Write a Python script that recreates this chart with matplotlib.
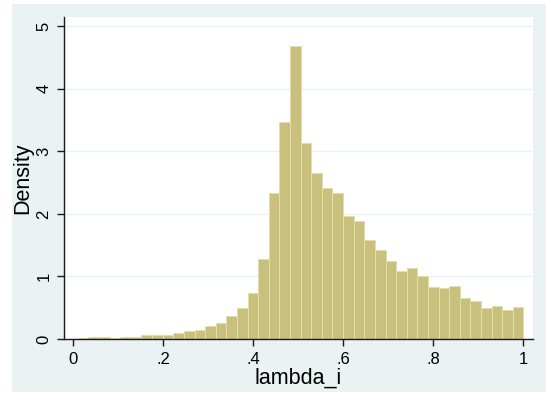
import numpy as np
import matplotlib.pyplot as plt
from matplotlib.patches import Rectangle

plt.rcParams["font.family"] = ["Liberation Sans", "DejaVu Sans"]

# histogram of lambda_i: 42 equal-width bins from the sample minimum to 1
lo = 0.0096
hi = 1.0
density = [0.016, 0.027, 0.027, 0.020, 0.037, 0.030, 0.070, 0.060, 0.065, 0.10,
           0.12, 0.14, 0.21, 0.26, 0.37, 0.49, 0.74, 1.28, 2.33, 3.47,
           4.68, 3.14, 2.66, 2.41, 2.34, 1.96, 1.88, 1.59, 1.43, 1.24,
           1.09, 1.13, 1.01, 0.83, 0.82, 0.84, 0.66, 0.60, 0.49, 0.52,
           0.46, 0.51]
xticks = [0, 0.2, 0.4, 0.6, 0.8, 1.0]
xticklabels = ["0", ".2", ".4", ".6", ".8", "1"]
yticks = [0, 1, 2, 3, 4, 5]

edges = np.linspace(lo, hi, len(density) + 1)
width = edges[1] - edges[0]

fig = plt.figure(figsize=(5.46, 3.97), dpi=100)
fig.patch.set_facecolor("white")
# graph region background
fig.add_artist(Rectangle((12 / 546, 1 - 392 / 397), 1 - 12 / 546, 388 / 397,
                         transform=fig.transFigure, facecolor="#eaf2f3",
                         edgecolor="none", zorder=-10))

ax = fig.add_axes([64 / 546, 1 - 339 / 397, (532.7 - 64) / 546, (339 - 17) / 397])
ax.set_facecolor("white")

ax.bar(edges[:-1], density, width=width, align="edge",
       color="#c9c07e", edgecolor="#e4dea9", linewidth=0.7, zorder=2)

ax.set_xlim(-0.0211, 1.0205)
ax.set_ylim(0, 5.147)

ax.set_yticks(yticks)
ax.set_yticklabels([str(v) for v in yticks], rotation=90, va="center")
ax.set_xticks(xticks)
ax.set_xticklabels(xticklabels)
ax.yaxis.grid(True, color="#eaf2f3", linewidth=1.0, zorder=0)
ax.set_axisbelow(True)

for s in ["top", "right"]:
    ax.spines[s].set_visible(False)
for s in ["left", "bottom"]:
    ax.spines[s].set_color("#1a1a1a")
    ax.spines[s].set_linewidth(1.0)

ax.tick_params(axis="both", direction="out", length=5, width=1.0,
               color="#1a1a1a", labelsize=12, labelcolor="black", pad=4)

ax.set_xlabel("lambda_i", fontsize=15.5, labelpad=1)
ax.set_ylabel("Density", fontsize=15.5, labelpad=2)

fig.savefig("out.png", dpi=100, facecolor=fig.get_facecolor())
